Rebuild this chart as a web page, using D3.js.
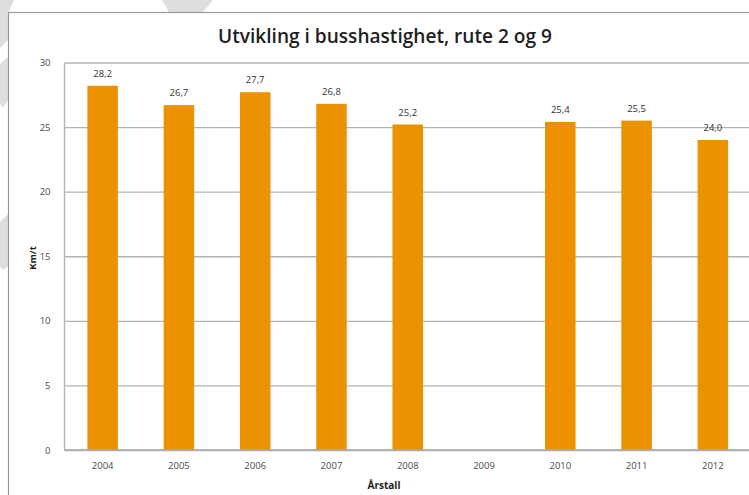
<!DOCTYPE html>
<html>
<head>
<meta charset="utf-8">
<script src="https://cdn.jsdelivr.net/npm/d3@7"></script>
<style>
  html, body { margin: 0; padding: 0; background: #fff; }
  svg { display: block; }
  text { font-family: "Open Sans", "DejaVu Sans", sans-serif; }
</style>
</head>
<body>
<svg id="chart" width="749" height="495"></svg>
<script>
// Average bus speed per year, routes 2 and 9 (km/h). 2009 has no measurement.
const years  = ["2004", "2005", "2006", "2007", "2008", "2009", "2010", "2011", "2012"];
const speeds = [28.2, 26.7, 27.7, 26.8, 25.2, null, 25.4, 25.5, 24.0];
const yTicks = [0, 5, 10, 15, 20, 25, 30];

const titleText  = "Utvikling i busshastighet, rute 2 og 9";
const yAxisTitle = "Km/t";
const xAxisTitle = "Årstall";

const svg = d3.select("#chart");
const W = 749, H = 495;

// Light background shapes behind the chart frame
const bgShapes = [
  [[0, 0], [14, 0], [8, 14], [8, 40], [0, 48]],
  [[8, 57], [8, 100], [3, 108], [0, 104], [0, 64]],
  [[8, 214], [8, 266], [3, 270], [0, 266], [0, 222]],
  [[162, 0], [213, 0], [203, 12], [169, 12]]
];
svg.selectAll("polygon.bg")
  .data(bgShapes)
  .join("polygon")
  .attr("class", "bg")
  .attr("points", d => d.map(p => p.join(",")).join(" "))
  .attr("fill", "#dedede");

// Chart frame
svg.append("rect")
  .attr("x", 8.5).attr("y", 12.5)
  .attr("width", W + 20).attr("height", H + 20)
  .attr("fill", "#fff")
  .attr("stroke", "#9a9a9a")
  .attr("stroke-width", 1.2);

const plot = { left: 64.5, top: 62.5, bottom: 450, right: 751 };

const x = d3.scaleBand()
  .domain(years)
  .range([plot.left, plot.right])
  .paddingInner(0.6)
  .paddingOuter(0.3);

const y = d3.scaleLinear()
  .domain([0, 30])
  .range([plot.bottom, plot.top]);

// Horizontal gridlines
const yAxis = d3.axisLeft(y)
  .tickValues(yTicks)
  .tickSize(-(W - plot.left + 10))
  .tickPadding(14)
  .tickFormat(d3.format("d"));

const gy = svg.append("g")
  .attr("transform", `translate(${plot.left},0)`)
  .call(yAxis);
gy.select(".domain").remove();
gy.selectAll(".tick line")
  .attr("stroke", "#b3b3b3")
  .attr("stroke-width", 1.4);
gy.selectAll(".tick text")
  .attr("fill", "#4a4a4a")
  .attr("font-size", "9.5px");

// Left border of the plot area
svg.append("line")
  .attr("x1", plot.left).attr("x2", plot.left)
  .attr("y1", y(30)).attr("y2", y(0))
  .attr("stroke", "#b3b3b3")
  .attr("stroke-width", 1.4);

// Bars
const rows = years.map((yr, i) => ({ year: yr, value: speeds[i] }))
  .filter(d => d.value !== null);

svg.selectAll("rect.bar")
  .data(rows)
  .join("rect")
  .attr("class", "bar")
  .attr("x", d => x(d.year))
  .attr("width", x.bandwidth())
  .attr("y", d => y(d.value))
  .attr("height", d => y(0) - y(d.value))
  .attr("fill", "#ec9100");

// Value labels
const fmt = v => d3.format(".1f")(v).replace(".", ",");
svg.selectAll("text.val")
  .data(rows)
  .join("text")
  .attr("class", "val")
  .attr("x", d => x(d.year) + x.bandwidth() / 2)
  .attr("y", d => y(d.value) - 9)
  .attr("text-anchor", "middle")
  .attr("font-size", "9.5px")
  .attr("fill", "#333")
  .text(d => fmt(d.value));

// X axis
const xAxis = d3.axisBottom(x).tickSize(0).tickPadding(12);
const gx = svg.append("g")
  .attr("transform", `translate(0,${plot.bottom})`)
  .call(xAxis);
gx.select(".domain").remove();
gx.selectAll(".tick text")
  .attr("fill", "#4a4a4a")
  .attr("font-size", "9.5px");

svg.append("line")
  .attr("x1", plot.left).attr("x2", W + 5)
  .attr("y1", plot.bottom).attr("y2", plot.bottom)
  .attr("stroke", "#a8a8a8")
  .attr("stroke-width", 1.4);

// Axis titles
svg.append("text")
  .attr("transform", "translate(36,258) rotate(-90)")
  .attr("text-anchor", "middle")
  .attr("font-size", "9.5px")
  .attr("font-weight", "bold")
  .attr("fill", "#222")
  .text(yAxisTitle);

svg.append("text")
  .attr("x", 384).attr("y", 489)
  .attr("text-anchor", "middle")
  .attr("font-size", "10px")
  .attr("font-weight", "bold")
  .attr("fill", "#222")
  .text(xAxisTitle);

// Title, sized to its set width
const title = svg.append("text")
  .attr("x", 385).attr("y", 43)
  .attr("text-anchor", "middle")
  .attr("font-size", "18px")
  .attr("font-weight", 600)
  .attr("fill", "#1e1e1e")
  .text(titleText);
const tw = title.node().getComputedTextLength();
title.attr("font-size", (18 * 334 / tw).toFixed(2) + "px");
</script>
</body>
</html>
